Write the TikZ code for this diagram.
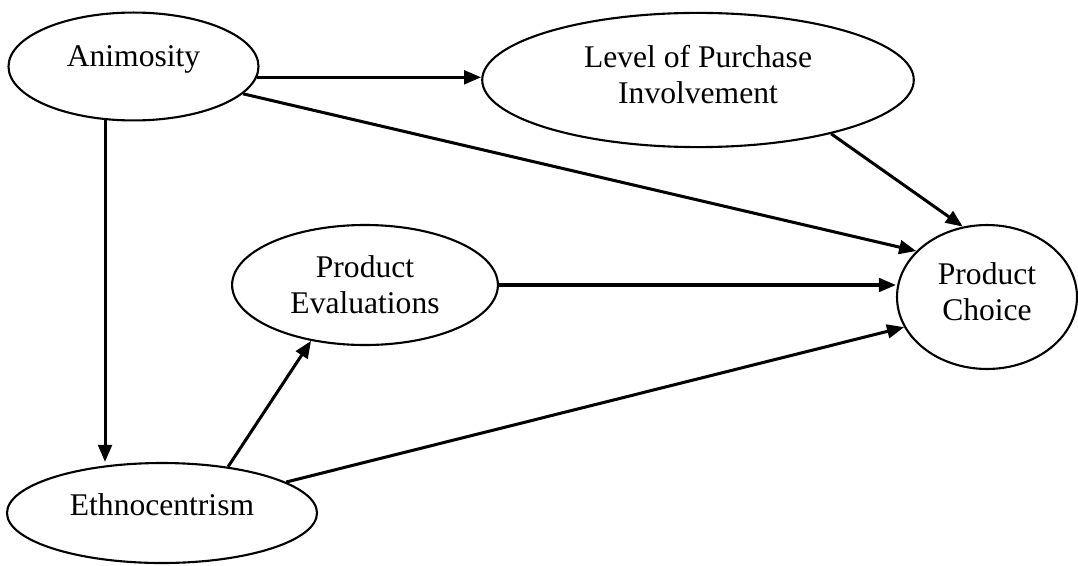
\documentclass[tikz,border=0pt]{standalone}
\usepackage{fontspec}
\setmainfont{Liberation Serif}
\usetikzlibrary{arrows.meta,shapes.geometric}

\tikzset{
	construct/.style={draw, ellipse, line width=0.8pt, inner sep=0pt, align=center,
		font=\fontsize{12}{13.8}\selectfont},
	effect/.style={line width=1.15pt, -{Triangle[length=6.5pt, width=5.2pt]}}
}

\begin{document}
\begin{tikzpicture}[x=0.38pt, y=-0.38pt]
	
	\useasboundingbox (0,0) rectangle (1078,565);
	
	\node [construct, minimum width=95pt,   minimum height=41pt,   text depth=8pt]   (ani) at (133.5, 66.5) {Animosity};
	\node [construct, minimum width=164pt,  minimum height=51pt,   text depth=4.3pt] (lvl) at (698,   80)   {Level of Purchase\\Involvement};
	\node [construct, minimum width=101pt,  minimum height=45.6pt]                   (pev) at (365,  285)   {Product\\Evaluations};
	\node [construct, minimum width=68.4pt, minimum height=54.7pt, text depth=4.3pt] (pch) at (987,  297)   {Product\\Choice};
	\node [construct, minimum width=117.8pt,minimum height=38pt,   text depth=6.7pt] (eth) at (162,  513)   {Ethnocentrism};
	
	\draw [effect] (ani.-5)      -- (ani.-5 -| lvl.west);
	\draw [effect] (ani.-14.4)   -- (pch.147);
	\draw [effect] (ani.-118.5)  -- (ani.-118.5 |- eth.north);
	\draw [effect] (lvl.-22.2)   -- (pch.109);
	\draw [effect] (pev.east)    -- (pev.east -| pch.west);
	\draw [effect] (eth.35)      -- (pev.-134);
	\draw [effect] (eth.14.5)    -- (pch.200);
	
\end{tikzpicture}
\end{document}
